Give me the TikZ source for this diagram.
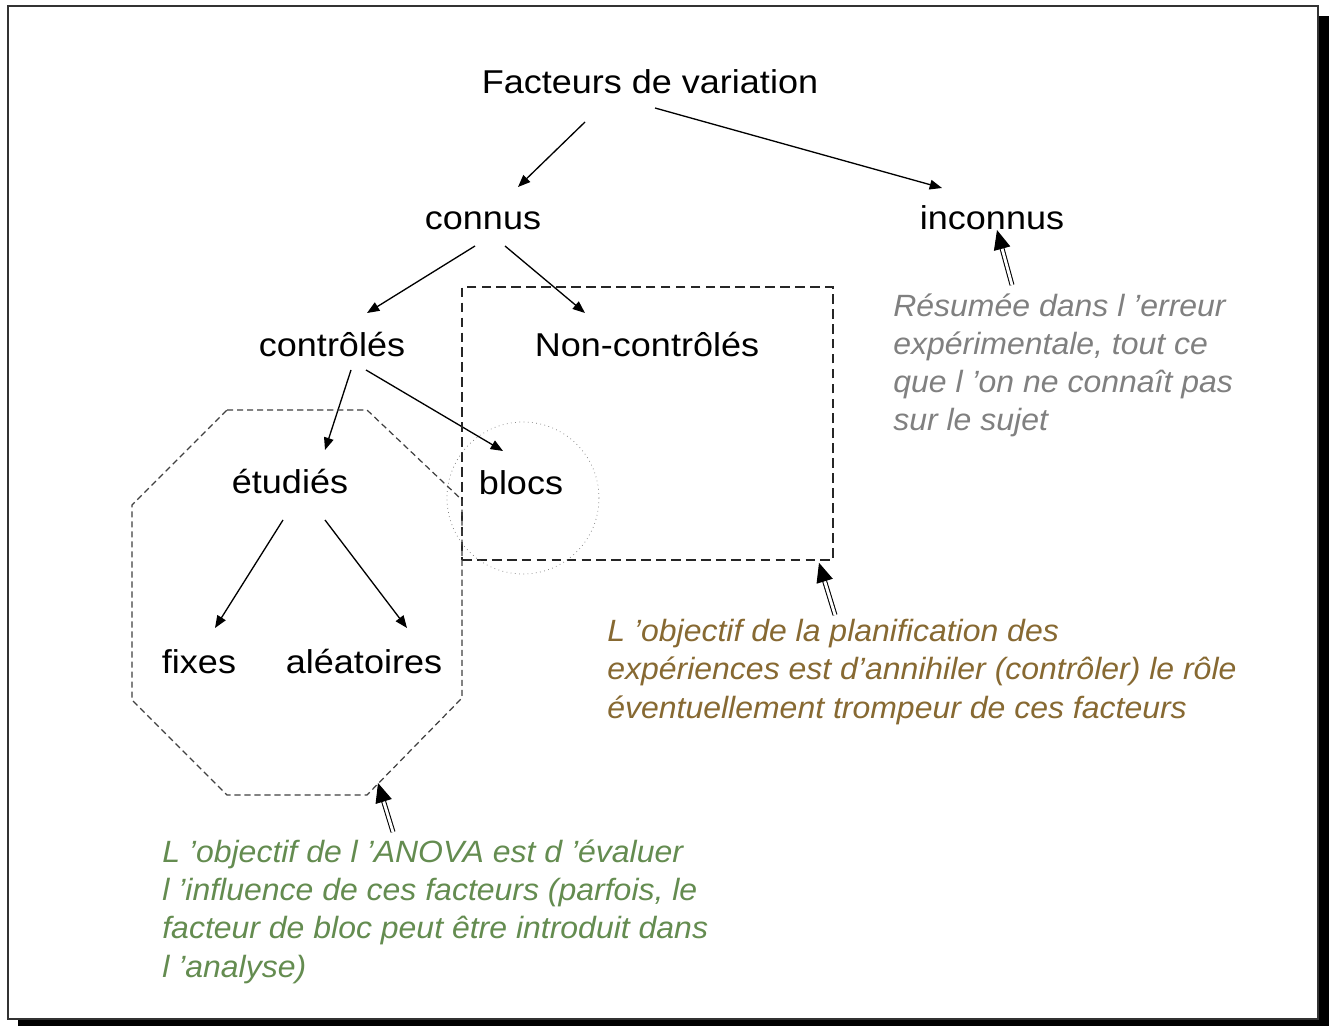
\documentclass[tikz,border=0pt]{standalone}
\usepackage{fontspec}
\setmainfont{Liberation Sans}
\newfontfamily\mainlbl[FakeStretch=1.09]{Liberation Sans}
\newfontfamily\notefont[FakeStretch=1.04]{Liberation Sans Italic}
\usetikzlibrary{arrows.meta}
\definecolor{notegrey}{RGB}{128, 128, 128}
\definecolor{notebrown}{RGB}{135, 105, 50}
\definecolor{notegreen}{RGB}{100, 140, 80}
\tikzset{
    lbl/.style={anchor=base, inner sep=0pt,
        font=\mainlbl\fontsize{18.8}{22}\selectfont},
    note/.style={anchor=base west, inner sep=0pt, align=left,
        font=\notefont\fontsize{17.5}{21.8}\selectfont},
    arr/.style={line width=0.75pt, -{Triangle[length=7pt, width=5.5pt]}},
    dblarr/.style={double, double distance=1.6pt, line width=0.6pt,
        -{Triangle[length=11pt, width=9.5pt]}},
    planbox/.style={draw=black!85, line width=0.9pt,
        dash pattern=on 5.5pt off 3pt},
    anovabox/.style={draw=black!75, line width=0.7pt,
        dash pattern=on 3.5pt off 2.2pt},
    blocring/.style={draw=black!55, line width=0.4pt, dotted},
}

\begin{document}
\begin{tikzpicture}[x=0.02cm, y=-0.02cm]
    \useasboundingbox (0, 0) rectangle (1335, 1026);
    % frame with shadow
    \fill[black] (18, 16) rectangle (1329, 1026);
    \draw[fill=white, draw=black!80, line width=0.7pt] (8, 6) rectangle (1318, 1019);

    % tree
    \node[lbl] (fact) at (650, 94) {Facteurs de variation};
    \node[lbl] (connus) at (483, 230) {connus};
    \node[lbl] (inconnus) at (992, 230) {inconnus};
    \node[lbl] (ctrl) at (332, 357) {contrôlés};
    \node[lbl] (nonctrl) at (647, 357) {Non-contrôlés};
    \node[lbl] (etudies) at (290, 494) {étudiés};
    \node[lbl] (blocs) at (521, 495) {blocs};
    \node[lbl] (fixes) at (199, 673) {fixes};
    \node[lbl] (aleat) at (364, 673) {aléatoires};

    \draw[arr] ([shift={(-65, 28)}]fact.base) -- ([shift={(35, -43)}]connus.base);
    \draw[arr] ([shift={(5, 14)}]fact.base) -- ([shift={(-50, -42)}]inconnus.base);
    \draw[arr] ([shift={(-8, 16)}]connus.base) -- ([shift={(35, -44)}]ctrl.base);
    \draw[arr] ([shift={(22, 16)}]connus.base) -- ([shift={(-62, -44)}]nonctrl.base);
    \draw[arr] ([shift={(19, 13)}]ctrl.base) -- ([shift={(35, -44)}]etudies.base);
    \draw[arr] ([shift={(34, 13)}]ctrl.base) -- ([shift={(-18, -44)}]blocs.base);
    \draw[arr] ([shift={(-7, 26)}]etudies.base) -- ([shift={(16, -45)}]fixes.base);
    \draw[arr] ([shift={(35, 26)}]etudies.base) -- ([shift={(43, -45)}]aleat.base);

    % groupings
    \node[planbox, minimum width=7.42cm, minimum height=5.46cm] (plan)
        at (647.5, 423.5) {};
    \draw[anovabox] (227, 410) -- (367, 410) -- (462, 500) -- (462, 698)
        -- (367, 795) -- (227, 795) -- (132, 700) -- (132, 505) -- cycle;
    \coordinate (anovatip) at (378, 783);
    \draw[blocring] (523, 498) circle[radius=1.52cm];

    % notes (base = last line)
    \node[note, text=notegrey] (errnote) at (893, 431)
        {Résumée dans l ’erreur\\expérimentale, tout ce\\que l ’on ne connaît pas\\sur le sujet};
    \node[note, text=notebrown] (plannote) at (607, 718)
        {L ’objectif de la planification des\\expériences est d’annihiler (contrôler) le rôle\\éventuellement trompeur de ces facteurs};
    \node[note, text=notegreen] (anovanote) at (162, 977)
        {L ’objectif de l ’ANOVA est d ’évaluer\\l ’influence de ces facteurs (parfois, le\\facteur de bloc peut être introduit dans\\l ’analyse)};

    \draw[dblarr] ([shift={(119, -146)}]errnote.base west) -- ([shift={(5, 0)}]inconnus.base);
    \draw[dblarr] ([shift={(228, -103)}]plannote.base west) -- ([shift={(171.5, 2)}]plan.south);
    \draw[dblarr] ([shift={(231, -145)}]anovanote.base west) -- (anovatip);
\end{tikzpicture}
\end{document}
